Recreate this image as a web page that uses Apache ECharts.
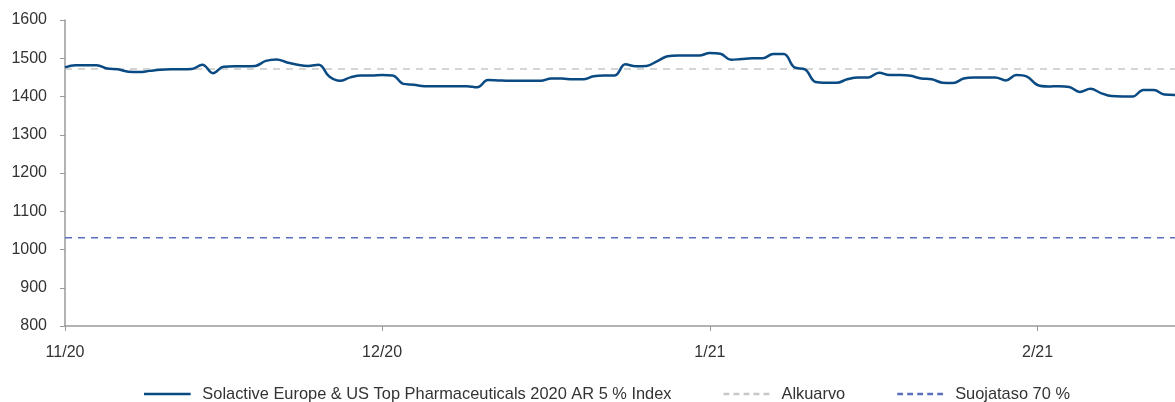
<!DOCTYPE html>
<html>
<head>
<meta charset="utf-8">
<script src="https://cdn.jsdelivr.net/npm/echarts@6/dist/echarts.min.js"></script>
<style>
html,body{margin:0;padding:0;background:#fff;}
#chart{width:1175px;height:402px;}
</style>
</head>
<body>
<div id="chart"></div>
<script>
// Daily observations starting 2020-11-01
var START_DATE = '2020-11-01';
var INDEX_VALUES = [
 1476,1482,1482,1482,1473,1471,1465,1464,1467,1470,
 1471,1471,1472,1483,1461,1478,1479,1479,1480,1493,
 1497,1489,1483,1480,1483,1452,1441,1450,1455,1455,
 1456,1455,1433,1431,1427,1427,1427,1427,1427,1424,
 1443,1442,1441,1441,1441,1441,1447,1447,1445,1445,
 1453,1455,1455,1484,1479,1480,1492,1505,1507,1507,
 1507,1514,1512,1496,1498,1500,1500,1511,1511,1476,
 1471,1438,1436,1436,1445,1450,1450,1462,1456,1456,
 1454,1447,1445,1436,1435,1447,1450,1450,1450,1442,
 1456,1452,1430,1426,1427,1425,1412,1420,1409,1401,
 1400,1400,1417,1417,1405,1404
];
var ALKUARVO = 1472;
var SUOJATASO = 1030.4;
var Y_MIN = 800, Y_MAX = 1600, Y_STEP = 100;
var SERIES_NAMES = ['Solactive Europe & US Top Pharmaceuticals 2020 AR 5 % Index', 'Alkuarvo', 'Suojataso 70 %'];

function pad(n){return n<10?'0'+n:''+n;}
var dates = [];
var t0 = Date.parse(START_DATE + 'T00:00:00Z');
for (var i = 0; i < INDEX_VALUES.length; i++) {
  var d = new Date(t0 + i*86400000);
  dates.push(d.getUTCFullYear() + '-' + pad(d.getUTCMonth()+1) + '-' + pad(d.getUTCDate()));
}
var alkuData = dates.map(function(){return ALKUARVO;});
var suojaData = dates.map(function(){return SUOJATASO;});

function isMonthStart(idx, val){ return /-01$/.test(val); }
var FONT = "'Liberation Sans', Arial, sans-serif";
var SOLID_ICON = 'path://M0,0h56v3h-56z';
var DASH_ICON = 'path://M0,0h7v3h-7z M12,0h7v3h-7z M24,0h7v3h-7z M36,0h7v3h-7z M48,0h7v3h-7z';

var chart = echarts.init(document.getElementById('chart'));
chart.setOption({
  animation: false,
  textStyle: {fontFamily: FONT},
  grid: {left: 65, right: 0, top: 20, bottom: 76, containLabel: false},
  legend: {
    top: 381, left: 139,
    itemWidth: 56, itemHeight: 2.5, itemGap: 52,
    textStyle: {fontSize: 16.4, color: '#333', fontFamily: FONT, padding: [0,0,0,2]},
    data: [
      {name: SERIES_NAMES[0], icon: SOLID_ICON},
      {name: SERIES_NAMES[1], icon: DASH_ICON},
      {name: SERIES_NAMES[2], icon: DASH_ICON}
    ]
  },
  xAxis: {
    type: 'category', data: dates, boundaryGap: false,
    axisLine: {lineStyle: {color: '#9a9a9a', width: 1.5}},
    axisTick: {interval: isMonthStart, length: 5, lineStyle: {color: '#9a9a9a'}},
    axisLabel: {
      interval: isMonthStart, margin: 19, fontSize: 16, color: '#333',
      formatter: function(v){ var p = v.split('-'); return parseInt(p[1],10) + '/' + p[0].slice(2); }
    },
    splitLine: {show: false}
  },
  yAxis: {
    type: 'value', min: Y_MIN, max: Y_MAX, interval: Y_STEP,
    axisLine: {show: true, lineStyle: {color: '#9a9a9a', width: 1.5}},
    axisTick: {show: true, length: 5, lineStyle: {color: '#9a9a9a'}},
    axisLabel: {fontSize: 16, color: '#333', margin: 18, formatter: function(v){ return String(v); }},
    splitLine: {show: false}
  },
  series: [
    {name: SERIES_NAMES[1], type: 'line', data: alkuData, symbol: 'none', z: 1,
     lineStyle: {color: '#c8c8c8', width: 1.5, type: [7, 6]}, itemStyle: {color: '#c8c8c8'}},
    {name: SERIES_NAMES[2], type: 'line', data: suojaData, symbol: 'none', z: 1,
     lineStyle: {color: '#5b6fbf', width: 1.5, type: [7, 6]}, itemStyle: {color: '#5b6fbf'}},
    {name: SERIES_NAMES[0], type: 'line', data: INDEX_VALUES, symbol: 'none', smooth: 0.4, z: 3,
     lineStyle: {color: '#0a4a82', width: 2.5}, itemStyle: {color: '#0a4a82'}}
  ]
});
</script>
</body>
</html>
